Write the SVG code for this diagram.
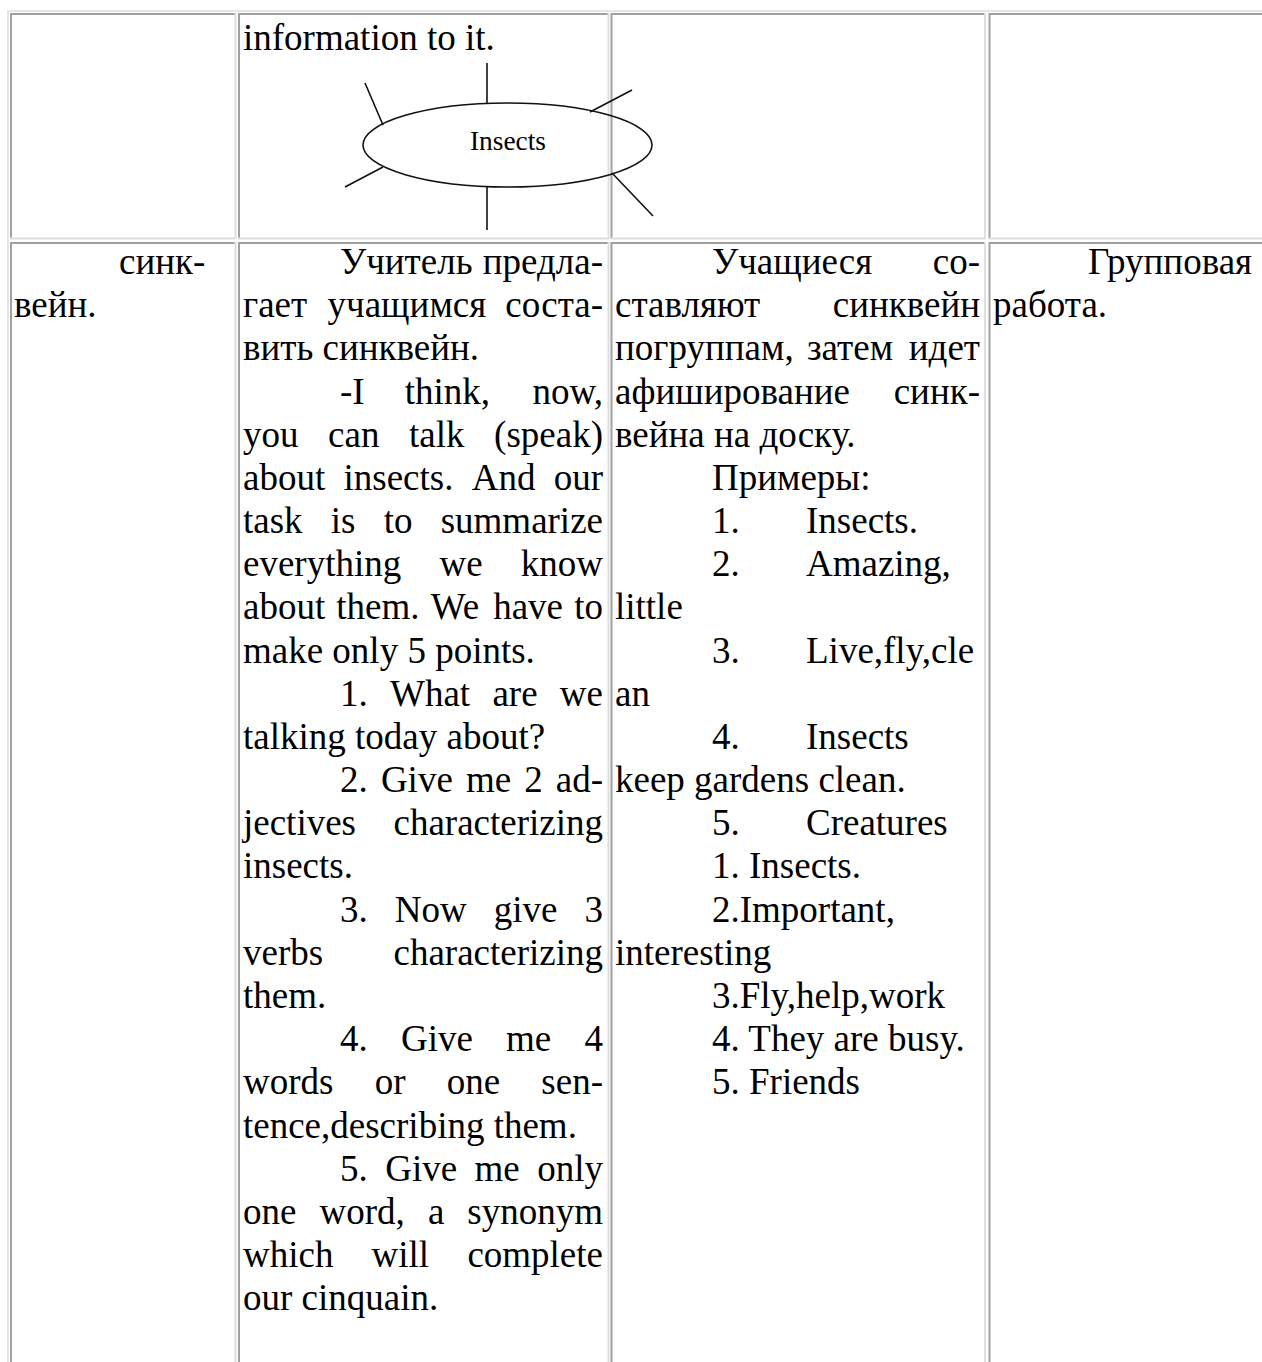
<svg xmlns="http://www.w3.org/2000/svg" width="1262" height="1362" viewBox="0 0 1262 1362">
<style>
text{font-family:"Liberation Serif","Times New Roman",serif;font-size:37px;fill:#000}
.e{text-anchor:end}
.dk{stroke:#a0a0a0;stroke-width:2;fill:none}
.lt{stroke:#dedede;stroke-width:2;fill:none}
.ot{stroke:#e6e6e6;stroke-width:2;fill:none}
.sk{stroke:#111;stroke-width:1.6;fill:none}
.sm{font-size:28px}
</style>
<rect width="1262" height="1362" fill="#fff"/>
<g id="table-grid">
<line class="ot" x1="7" y1="11" x2="1262" y2="11"/>
<line class="ot" x1="8" y1="10" x2="8" y2="1362"/>
<!-- row 1 -->
<line class="dk" x1="10" y1="14" x2="236" y2="14"/>
<line class="dk" x1="11" y1="13" x2="11" y2="239"/>
<line class="lt" x1="235.5" y1="13" x2="235.5" y2="239"/>
<line class="lt" x1="10" y1="238.5" x2="236" y2="238.5"/>
<line class="dk" x1="238" y1="14" x2="609" y2="14"/>
<line class="dk" x1="239" y1="13" x2="239" y2="239"/>
<line class="lt" x1="608.5" y1="13" x2="608.5" y2="239"/>
<line class="lt" x1="238" y1="238.5" x2="609" y2="238.5"/>
<line class="dk" x1="611" y1="14" x2="986" y2="14"/>
<line class="dk" x1="611.5" y1="13" x2="611.5" y2="239"/>
<line class="lt" x1="985" y1="13" x2="985" y2="239"/>
<line class="lt" x1="611" y1="238.5" x2="986" y2="238.5"/>
<line class="dk" x1="989" y1="14" x2="1262" y2="14"/>
<line class="dk" x1="989.5" y1="13" x2="989.5" y2="239"/>
<line class="lt" x1="989" y1="238.5" x2="1262" y2="238.5"/>
<!-- row 2 -->
<line class="dk" x1="10" y1="243" x2="236" y2="243"/>
<line class="dk" x1="11" y1="242" x2="11" y2="1362"/>
<line class="lt" x1="235.5" y1="242" x2="235.5" y2="1362"/>
<line class="dk" x1="238" y1="243" x2="609" y2="243"/>
<line class="dk" x1="239" y1="242" x2="239" y2="1362"/>
<line class="lt" x1="608.5" y1="242" x2="608.5" y2="1362"/>
<line class="dk" x1="611" y1="243" x2="986" y2="243"/>
<line class="dk" x1="611.5" y1="242" x2="611.5" y2="1362"/>
<line class="lt" x1="985" y1="242" x2="985" y2="1362"/>
<line class="dk" x1="989" y1="243" x2="1262" y2="243"/>
<line class="dk" x1="989.5" y1="242" x2="989.5" y2="1362"/>
</g>
<g id="connectors">
<line class="sk" x1="487" y1="63" x2="487" y2="103"/>
<line class="sk" x1="487" y1="187" x2="487" y2="230"/>
<line class="sk" x1="365" y1="83" x2="383" y2="125"/>
<line class="sk" x1="345" y1="187" x2="383" y2="167"/>
<line class="sk" x1="632" y1="90" x2="590" y2="112"/>
<line class="sk" x1="612" y1="173" x2="653" y2="216"/>
</g>
<g id="node-insects">
<ellipse class="sk" cx="507.5" cy="145" rx="144.5" ry="42"/>
<text class="sm" x="470" y="150" textLength="76" lengthAdjust="spacingAndGlyphs">Insects</text>
</g>
<g id="row1-text">
<text x="243" y="50">information to it.</text>
</g>
<g id="col1">
<text x="119" y="274">синк-</text>
<text x="14" y="317">вейн.</text>
</g>
<g id="col2">
<text x="340" y="274">Учитель</text><text class="e" x="603" y="274">предла-</text>
<text x="243" y="317">гает</text><text x="327.6" y="317">учащимся</text><text class="e" x="603" y="317">соста-</text>
<text x="243" y="360">вить синквейн.</text>
<text x="340" y="404">-I</text><text x="404.7" y="404">think,</text><text class="e" x="603" y="404">now,</text>
<text x="243" y="447">you</text><text x="328.1" y="447">can</text><text x="409.1" y="447">talk</text><text class="e" x="603" y="447">(speak)</text>
<text x="243" y="490">about</text><text x="343.5" y="490">insects.</text><text x="471.7" y="490">And</text><text class="e" x="603" y="490">our</text>
<text x="243" y="533">task</text><text x="330.8" y="533">is</text><text x="383.7" y="533">to</text><text class="e" x="603" y="533">summarize</text>
<text x="243" y="576">everything</text><text x="439.5" y="576">we</text><text class="e" x="603" y="576">know</text>
<text x="243" y="619">about</text><text x="336.3" y="619">them.</text><text x="430.7" y="619">We</text><text x="493.2" y="619">have</text><text class="e" x="603" y="619">to</text>
<text x="243" y="663">make only 5 points.</text>
<text x="340" y="706">1.</text><text x="390" y="706">What</text><text x="492.4" y="706">are</text><text class="e" x="603" y="706">we</text>
<text x="243" y="749">talking today about?</text>
<text x="340" y="792">2.</text><text x="380.9" y="792">Give</text><text x="465.9" y="792">me</text><text x="524.2" y="792">2</text><text class="e" x="603" y="792">ad-</text>
<text x="243" y="835">jectives</text><text class="e" x="603" y="835">characterizing</text>
<text x="243" y="878">insects.</text>
<text x="340" y="922">3.</text><text x="394.8" y="922">Now</text><text x="493.7" y="922">give</text><text class="e" x="603" y="922">3</text>
<text x="243" y="965">verbs</text><text class="e" x="603" y="965">characterizing</text>
<text x="243" y="1008">them.</text>
<text x="340" y="1051">4.</text><text x="401" y="1051">Give</text><text x="506.1" y="1051">me</text><text class="e" x="603" y="1051">4</text>
<text x="243" y="1094">words</text><text x="374.7" y="1094">or</text><text x="446.8" y="1094">one</text><text class="e" x="603" y="1094">sen-</text>
<text x="243" y="1138">tence,describing them.</text>
<text x="340" y="1181">5.</text><text x="385.2" y="1181">Give</text><text x="474.6" y="1181">me</text><text class="e" x="603" y="1181">only</text>
<text x="243" y="1224">one</text><text x="319.5" y="1224">word,</text><text x="427.9" y="1224">a</text><text class="e" x="603" y="1224">synonym</text>
<text x="243" y="1267">which</text><text x="371.6" y="1267">will</text><text class="e" x="603" y="1267">complete</text>
<text x="243" y="1310">our cinquain.</text>
</g>
<g id="col3">
<text x="712" y="274">Учащиеся</text><text class="e" x="980" y="274">со-</text>
<text x="615" y="317">ставляют</text><text class="e" x="980" y="317">синквейн</text>
<text x="615" y="360">погруппам,</text><text x="807" y="360">затем</text><text class="e" x="980" y="360">идет</text>
<text x="615" y="404">афиширование</text><text class="e" x="980" y="404">синк-</text>
<text x="615" y="447">вейна на доску.</text>
<text x="712" y="490">Примеры:</text>
<text x="712" y="533">1.</text><text x="806" y="533">Insects.</text>
<text x="712" y="576">2.</text><text x="806" y="576">Amazing,</text>
<text x="615" y="619">little</text>
<text x="712" y="663">3.</text><text x="806" y="663">Live,fly,cle</text>
<text x="615" y="706">an</text>
<text x="712" y="749">4.</text><text x="806" y="749">Insects</text>
<text x="615" y="792">keep gardens clean.</text>
<text x="712" y="835">5.</text><text x="806" y="835">Creatures</text>
<text x="712" y="878">1. Insects.</text>
<text x="712" y="922">2.Important,</text>
<text x="615" y="965">interesting</text>
<text x="712" y="1008">3.Fly,help,work</text>
<text x="712" y="1051">4. They are busy.</text>
<text x="712" y="1094">5. Friends</text>
</g>
<g id="col4">
<text x="1088" y="274">Групповая</text>
<text x="993" y="317">работа.</text>
</g>
</svg>
